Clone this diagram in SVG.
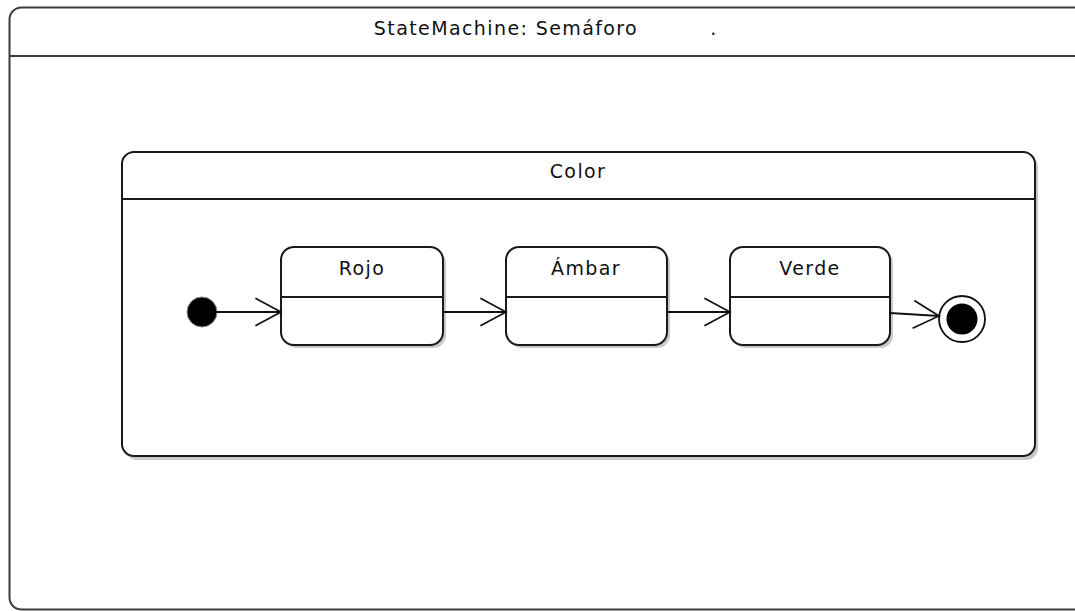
<svg xmlns="http://www.w3.org/2000/svg" width="1075" height="611" viewBox="0 0 1075 611">
  <defs>
    <style>
      .frame { fill: #ffffff; stroke: #3c3c3c; stroke-width: 2; }
      .box { fill: #ffffff; stroke: #1a1a1a; stroke-width: 2; }
      .shadow { fill: #c8c8c8; }
      .sep { stroke: #1a1a1a; stroke-width: 2; }
      .frame-sep { stroke: #3c3c3c; stroke-width: 2; }
      .label { font-family: "DejaVu Sans", "Liberation Sans", sans-serif; font-size: 19px; letter-spacing: 1.4px; fill: #111; text-anchor: middle; }
      .edge { fill: none; stroke: #111; stroke-width: 1.8; }
    </style>
    <marker id="open-arrow" markerUnits="userSpaceOnUse" markerWidth="30" markerHeight="32" viewBox="-26 -15 28 30" refX="0" refY="0" orient="auto">
      <path d="M -24 -13 L 0 0 L -24 13" fill="none" stroke="#111" stroke-width="1.6"/>
    </marker>
  </defs>

  <!-- outer state machine frame -->
  <g id="statemachine">
    <rect class="frame" x="9.5" y="7.5" width="1080" height="602" rx="12" ry="12"/>
    <line class="frame-sep" x1="9.5" y1="56" x2="1075" y2="56"/>
    <text class="label" x="506" y="35">StateMachine: Semáforo</text>
    <text class="label" x="714" y="35">.</text>
  </g>

  <!-- composite state -->
  <g id="color">
    <rect class="shadow" x="125" y="155" width="913" height="305" rx="12" ry="12"/>
    <rect class="box" x="122" y="152" width="913" height="304" rx="12" ry="12"/>
    <line class="sep" x1="122" y1="199" x2="1035" y2="199"/>
    <text class="label" x="578" y="178">Color</text>
  </g>

  <g id="initial">
    <circle cx="202" cy="312" r="15" fill="#000" stroke="#888" stroke-width="1"/>
  </g>

  <g id="rojo">
    <rect class="shadow" x="284" y="250" width="162" height="98" rx="13" ry="13"/>
    <rect class="box" x="281" y="247" width="162" height="98" rx="13" ry="13"/>
    <line class="sep" x1="281" y1="297" x2="443" y2="297"/>
    <text class="label" x="362" y="275">Rojo</text>
  </g>

  <g id="ambar">
    <rect class="shadow" x="509" y="250" width="161" height="98" rx="13" ry="13"/>
    <rect class="box" x="506" y="247" width="161" height="98" rx="13" ry="13"/>
    <line class="sep" x1="506" y1="297" x2="667" y2="297"/>
    <text class="label" x="586" y="275">Ámbar</text>
  </g>

  <g id="verde">
    <rect class="shadow" x="733" y="250" width="160" height="98" rx="13" ry="13"/>
    <rect class="box" x="730" y="247" width="160" height="98" rx="13" ry="13"/>
    <line class="sep" x1="730" y1="297" x2="890" y2="297"/>
    <text class="label" x="810" y="275">Verde</text>
  </g>

  <g id="final">
    <circle cx="962" cy="319" r="23" fill="#fff" stroke="#111" stroke-width="1.8"/>
    <circle cx="962" cy="319" r="15.5" fill="#000"/>
  </g>

  <!-- transitions -->
  <g id="connectors">
    <line class="edge" x1="216" y1="312" x2="281" y2="312" marker-end="url(#open-arrow)"/>
    <line class="edge" x1="443" y1="312" x2="506" y2="312" marker-end="url(#open-arrow)"/>
    <line class="edge" x1="667" y1="312" x2="730" y2="312" marker-end="url(#open-arrow)"/>
    <line class="edge" x1="890" y1="313" x2="939" y2="316" marker-end="url(#open-arrow)"/>
  </g>
</svg>
